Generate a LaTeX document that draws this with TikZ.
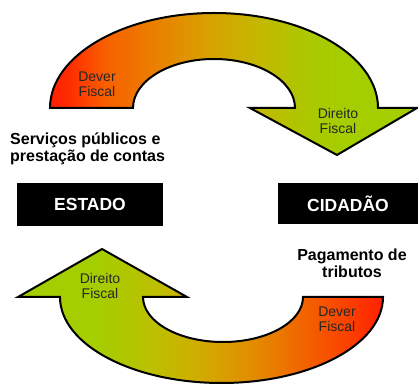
\documentclass[tikz,border=0pt]{standalone}
\usepackage{fontspec}
\setmainfont{Liberation Sans}
\definecolor{g0}{RGB}{255,28,0}
\definecolor{g1}{RGB}{255,50,0}
\definecolor{g2}{RGB}{248,96,0}
\definecolor{g3}{RGB}{234,128,0}
\definecolor{g4}{RGB}{216,160,0}
\definecolor{g5}{RGB}{196,184,0}
\definecolor{g6}{RGB}{172,200,0}
\definecolor{g7}{RGB}{164,206,0}
\definecolor{h0}{RGB}{164,206,0}
\definecolor{h1}{RGB}{188,192,0}
\definecolor{h2}{RGB}{210,170,0}
\definecolor{h3}{RGB}{226,140,0}
\definecolor{h4}{RGB}{242,100,0}
\definecolor{h5}{RGB}{252,60,0}
\definecolor{h6}{RGB}{255,32,0}
\newcommand\toparrowpath{(50,277) arc[start angle=180,end angle=0,x radius=164,y radius=95]
  -- (417,277) -- (337,230) -- (250,277) -- (295,277)
  arc[start angle=0,end angle=180,x radius=81,y radius=49] -- cycle}
\newcommand\botarrowpath{(60,88) -- (18,88) -- (102,136) -- (187,88) -- (143,88)
  arc[start angle=180,end angle=360,x radius=80,y radius=45]
  -- (383,88)
  arc[start angle=0,end angle=-180,x radius=161.5,y radius=86] -- cycle}
\begin{document}
\begin{tikzpicture}[x=1pt,y=1pt,
  band/.style={draw=black,line width=2pt,line join=miter},
  lbl/.style={align=center,inner sep=0pt,text=black!85,font=\fontsize{14}{15}\selectfont},
  note/.style={inner sep=0pt,font=\fontsize{16}{17}\selectfont\bfseries},
  party/.style={fill=black,text=white,inner sep=0pt,font=\fontsize{17.5}{20}\selectfont\bfseries}]
\useasboundingbox (0,0) rectangle (418,385);
% top arrow fill
\begin{scope}
  \clip \toparrowpath;
  \fill[g0] (0,190) rectangle (50.5,385);
  \shade[left color=g0,right color=g1] (50,190) rectangle (73,385);
  \shade[left color=g1,right color=g2] (73,190) rectangle (106,385);
  \shade[left color=g2,right color=g3] (106,190) rectangle (156,385);
  \shade[left color=g3,right color=g4] (156,190) rectangle (207,385);
  \shade[left color=g4,right color=g5] (207,190) rectangle (257,385);
  \shade[left color=g5,right color=g6] (257,190) rectangle (307,385);
  \shade[left color=g6,right color=g7] (307,190) rectangle (345,385);
  \fill[g7] (344.5,190) rectangle (420,385);
\end{scope}
\draw[band] \toparrowpath;
% bottom arrow fill
\begin{scope}
  \clip \botarrowpath;
  \fill[h0] (0,0) rectangle (97.5,150);
  \shade[left color=h0,right color=h1] (97,0) rectangle (153,150);
  \shade[left color=h1,right color=h2] (153,0) rectangle (203,150);
  \shade[left color=h2,right color=h3] (203,0) rectangle (253,150);
  \shade[left color=h3,right color=h4] (253,0) rectangle (303,150);
  \shade[left color=h4,right color=h5] (303,0) rectangle (353,150);
  \shade[left color=h5,right color=h6] (353,0) rectangle (383,150);
  \fill[h6] (382.5,0) rectangle (420,150);
\end{scope}
\draw[band] \botarrowpath;
% labels
\node[lbl] (d1) at (97,300.5) {Dever\\Fiscal};
\node[lbl] (r1) at (338,264) {Direito\\Fiscal};
\node[lbl] (r2) at (100,98.5) {Direito\\Fiscal};
\node[lbl] (d2) at (337,65.5) {Dever\\Fiscal};
\node[note,anchor=west,align=left] (serv) at (10,236.5) {Serviços públicos e\\prestação de contas};
\node[note,align=center] (pag) at (352,121.5) {Pagamento de\\tributos};
\node[party,minimum width=146pt,minimum height=43pt] (est) at (90,180.5) {ESTADO};
\node[party,minimum width=140pt,minimum height=41pt] (cid) at (348,181.5) {CIDADÃO};
\end{tikzpicture}
\end{document}
